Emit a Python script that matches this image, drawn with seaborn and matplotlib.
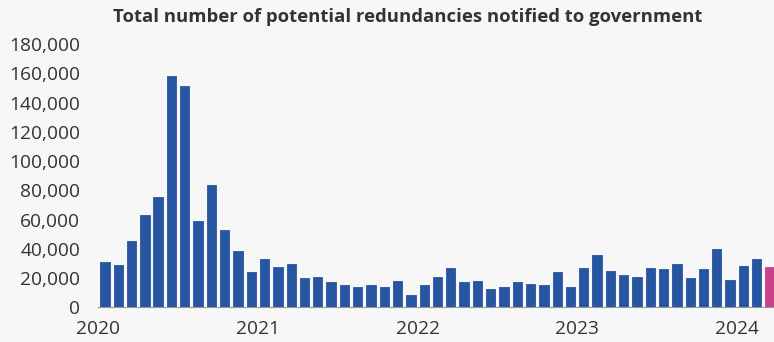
import matplotlib
matplotlib.use("Agg")
import matplotlib.pyplot as plt
import seaborn as sns
import pandas as pd

# Monthly potential redundancies notified (HR1 forms), Jan 2020 - Mar 2024
months = pd.date_range("2020-01-01", "2024-03-01", freq="MS").strftime("%Y-%m").tolist()
redundancies = [
    30800, 29000, 45600, 63200, 75300, 157800, 151500, 59300, 83500, 52900, 38300, 24400,   # 2020
    33300, 27800, 29400, 20100, 20500, 17100, 15500, 14100, 15300, 14100, 18200, 8200,     # 2021
    15000, 20700, 26700, 17300, 17700, 12300, 13700, 17500, 15700, 15000, 24000, 13900,    # 2022
    26700, 36000, 25100, 22300, 20500, 26900, 26200, 29800, 20300, 26000, 39900, 18500,    # 2023
    28100, 32900, 27600,                                                                   # 2024
]
status = ["final"] * (len(redundancies) - 1) + ["provisional"]
year_labels = ["2020", "2021", "2022", "2023", "2024"]
y_ticks = list(range(0, 180001, 20000))

df = pd.DataFrame({"month": months, "value": redundancies, "status": status})

BG = "#f7f7f7"
TEXT = "#333333"
palette = {"final": "#2755a1", "provisional": "#c8418a"}

sns.set_theme(style="white")
plt.rcParams["font.family"] = ["Open Sans", "DejaVu Sans"]

fig = plt.figure(figsize=(7.74, 3.42), dpi=100, facecolor=BG)
ax = fig.add_axes([98.3 / 774, 1 - 307.3 / 342, 1 - 98.3 / 774, (307.3 - 44) / 342])
ax.set_facecolor(BG)

sns.barplot(data=df, x="month", y="value", hue="status", palette=palette,
            dodge=False, width=0.7, legend=False, ax=ax, saturation=1)
for p in ax.patches:
    p.set_edgecolor(p.get_facecolor())
    p.set_linewidth(0.6)
    p.set_joinstyle("round")

ax.set_xlim(-0.5, 50.3)
ax.set_ylim(0, 180000)

ax.set_yticks(y_ticks)
ax.set_yticklabels([f"{v:,}" for v in y_ticks], fontsize=13.8, color=TEXT)
ax.set_xticks([-0.5 + 12 * i for i in range(len(year_labels))])
ax.set_xticklabels(year_labels, fontsize=13.8, color=TEXT)
ax.tick_params(axis="x", length=6, width=0.8, color="#aaaaaa", pad=3)
ax.tick_params(axis="y", length=0, pad=13)
ax.set_xlabel("")
ax.set_ylabel("")

for side in ["top", "right", "left"]:
    ax.spines[side].set_visible(False)
ax.spines["bottom"].set_color("#999999")
ax.spines["bottom"].set_linewidth(0.8)

fig.text(408 / 774, 1 - 17 / 342, "Total number of potential redundancies notified to government",
         ha="center", va="center", fontsize=13.3, fontweight="bold", color=TEXT)

fig.savefig("out.png", dpi=100, facecolor=BG)
